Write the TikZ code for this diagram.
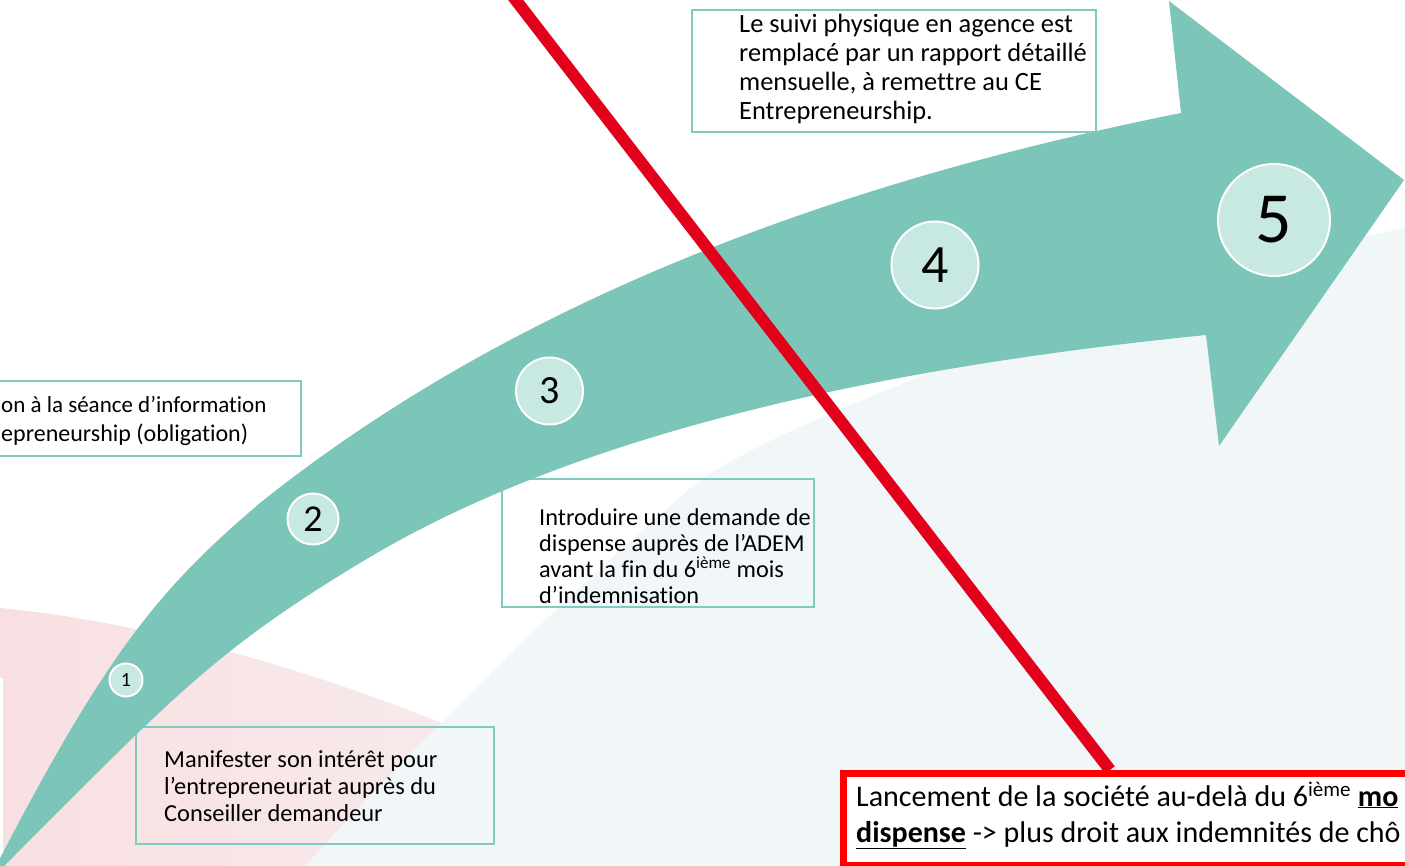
\documentclass[tikz,border=0pt]{standalone}
\usepackage{fontspec}
\setmainfont{Carlito}[Ligatures=NoCommon]
\definecolor{arrowteal}{HTML}{7BC5B9}
\definecolor{circfill}{HTML}{C8E8E2}
\definecolor{boxteal}{HTML}{80CABF}
\definecolor{redline}{HTML}{E3001B}
\definecolor{redbox}{HTML}{FF0000}
\definecolor{pinkA}{HTML}{F8E0E2}
\definecolor{pinkB}{HTML}{F7EDEF}
\definecolor{bgblue}{HTML}{F1F7F8}
\begin{document}
\begin{tikzpicture}[x=1pt,y=-1pt,
  tealbox/.style={draw=boxteal, line width=1.5pt},
  numcirc/.style={circle, fill=circfill, draw=white, line width=2pt, inner sep=0pt, text=black},
  boxtext/.style={anchor=base west, inner sep=0pt, align=left, text=black}]
\useasboundingbox (0,0) rectangle (1405,866);
\begin{scope}
\clip (0,0) rectangle (1405,866);
\fill[white] (0,0) rectangle (1405,866);
% background swooshes
\shade[left color=pinkA, right color=pinkB] (0,608) .. controls (150,622) and (330,675) .. (470,735) .. controls (560,775) and (620,820) .. (660,866) -- (0,866) -- cycle;
\fill[bgblue] (305,866) .. controls (420,740) and (560,600) .. (700,480) .. controls (820,400) and (1200,270) .. (1405,228) -- (1405,866) -- cycle;
\fill[white] (-5,678) rectangle (3,870);
% text boxes under the arrow
\draw[tealbox, fill=white] (-10,381) rectangle (301,456);
\draw[tealbox] (136,727) rectangle (494,844);
\draw[tealbox] (502,479) rectangle (814,607);
\draw[tealbox, fill=white] (692,10) rectangle (1096,132);
% arrow
\fill[arrowteal] (-4,866) .. controls (107,651.5) and (160,588) .. (260,503)
  .. controls (510,303) and (831,183) .. (1181,113)
  -- (1169,1) -- (1404,180) -- (1219,446) -- (1206,335)
  .. controls (856,370) and (565,440) .. (365,560)
  .. controls (215,650) and (174,696) .. (4,866) -- cycle;
% numbered circles
\node[numcirc, minimum size=33pt, font=\fontsize{20}{20}\selectfont] (n1) at (126,680) {1};
\node[numcirc, minimum size=51pt, font=\fontsize{38}{38}\selectfont] (n2) at (313,519) {2};
\node[numcirc, minimum size=67pt, font=\fontsize{40}{40}\selectfont] (n3) at (549.5,391) {3};
\node[numcirc, minimum size=87pt, font=\fontsize{54}{54}\selectfont] (n4) at (935,265) {4};
\node[numcirc, minimum size=112pt, font=\fontsize{72}{72}\selectfont] (n5) at (1274,220) {5};
% texts (anchored at the baseline of their last line)
\node[boxtext, font=\fontsize{23}{28}\selectfont] (ta1) at (1,412) {on à la séance d’information};
\node[boxtext, font=\fontsize{24}{28}\selectfont] (ta2) at (1,441) {epreneurship (obligation)};
\node[boxtext, font=\fontsize{24.4}{26.7}\selectfont] (tb) at (164,821) {Manifester son intérêt pour\\l’entrepreneuriat auprès du\\Conseiller demandeur};
\node[boxtext, font=\fontsize{24.3}{26}\selectfont] (tc) at (539,603.5) {Introduire une demande de\\dispense auprès de l’ADEM\\avant la fin du 6\textsuperscript{ième} mois\\d’indemnisation};
\node[boxtext, font=\fontsize{26.4}{29}\selectfont] (td) at (739,119.5) {Le suivi physique en agence est\\remplacé par un rapport détaillé\\mensuelle, à remettre au CE\\Entrepreneurship.};
% red line and red box
\coordinate (rtop) at (508,-10);
\coordinate (rend) at (1110,770);
\draw[redline, line width=12pt] (rtop) -- (rend);
\node[draw=redbox, line width=7pt, fill=white, anchor=north west, minimum width=800pt, minimum height=92pt, inner sep=0pt] (rbox) at (839.5,769.5) {};
\node[boxtext, font=\fontsize{30}{36}\selectfont] (rt) at (856,842) {Lancement de la société au-delà du 6\textsuperscript{ième} \textbf{\underline{mo}}\\\textbf{\underline{dispense}} -> plus droit aux indemnités de chô};
\end{scope}
\end{tikzpicture}
\end{document}
